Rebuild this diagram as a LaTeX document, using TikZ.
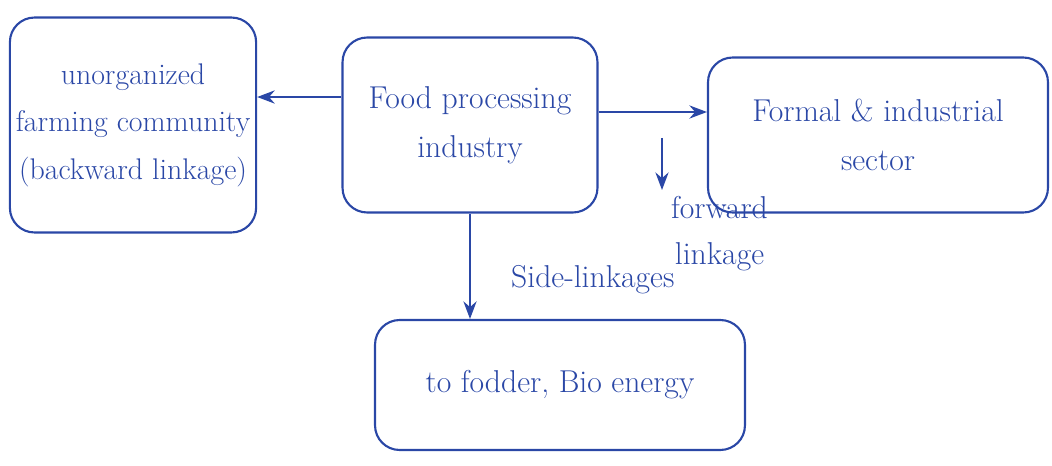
\documentclass[tikz,border=0pt]{standalone}
\usepackage{tikz}
\usetikzlibrary{arrows.meta,positioning,calc}
\definecolor{PenBlue}{HTML}{2A47A6}
\tikzset{
  sheet/.style={rectangle,rounded corners=14pt,draw=PenBlue,line width=1.2pt,align=center,text=PenBlue,font=\fontsize{18}{28}\selectfont},
  linklabel/.style={text=PenBlue,align=center,font=\fontsize{18}{26}\selectfont},
  arrow/.style={-{Stealth[length=10pt]},line width=1.2pt,color=PenBlue},
}

\begin{document}
\begin{tikzpicture}[x=0.02cm,y=-0.02cm]
  \useasboundingbox (0,0) rectangle (1052,466);

  % Boxes
  \node[sheet, minimum width=4.9cm, minimum height=4.3cm, font=\fontsize{17}{27}\selectfont] (farm) at (133,125) {unorganized\\farming community\\(backward linkage)};
  \node[sheet, minimum width=5.1cm, minimum height=3.5cm] (food) at (470,125) {Food processing\\industry};
  \node[sheet, minimum width=6.8cm, minimum height=3.1cm] (formal) at (878,135) {Formal \& industrial\\sector};
  \node[sheet, minimum width=7.4cm, minimum height=2.6cm] (fodder) at (560,385) {to fodder, Bio energy};

  % Labels
  \node[linklabel, anchor=north west] (fwdlabel) at (665,190) {forward\\linkage};
  \node[linklabel, anchor=west] (sidelabel) at (505,280) {Side-linkages};
  \coordinate (fwdtip) at (662,138);

  % Arrows
  \draw[arrow] ([yshift=0.56cm]food.west) -- ([yshift=0.56cm]food.west -| farm.east);
  \draw[arrow] ([yshift=0.26cm]food.east) -- ([yshift=0.26cm]food.east -| formal.west);
  \draw[arrow] (fwdtip) -- (fwdtip |- fwdlabel.north);
  \draw[arrow] (food.south) -- (food.south |- fodder.north);
\end{tikzpicture}
\end{document}
